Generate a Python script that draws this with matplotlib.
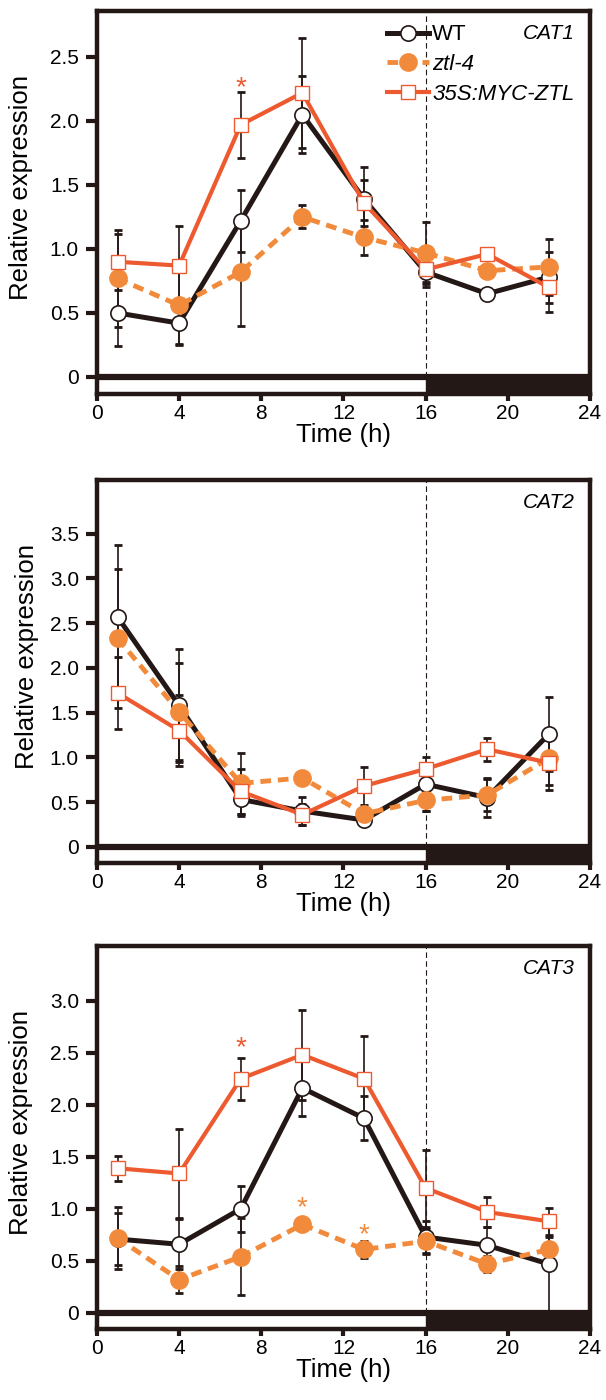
import numpy as np
import matplotlib
matplotlib.use("Agg")
import matplotlib.pyplot as plt
from matplotlib.patches import Rectangle

plt.rcParams['font.family'] = ['Liberation Sans', 'DejaVu Sans']

# sampling times (h)
hours = [1, 4, 7, 10, 13, 16, 19, 22]
genes = ["CAT1", "CAT2", "CAT3"]
labels = ["WT", "ztl-4", "35S:MYC-ZTL"]

# CAT1
cat1_wt = [0.50, 0.42, 1.22, 2.05, 1.39, 0.82, 0.65, 0.78]
cat1_wt_err = [0.26, 0.17, 0.24, 0.30, 0.25, 0.12, 0.02, 0.20]
cat1_ztl = [0.77, 0.56, 0.82, 1.25, 1.09, 0.97, 0.83, 0.86]
cat1_ztl_err = [0.38, 0.30, 0.42, 0.09, 0.14, 0.24, 0.03, 0.22]
cat1_ox = [0.90, 0.87, 1.97, 2.22, 1.36, 0.84, 0.96, 0.70]
cat1_ox_err = [0.22, 0.31, 0.26, 0.43, 0.18, 0.10, 0.03, 0.19]

# CAT2
cat2_wt = [2.57, 1.58, 0.53, 0.40, 0.30, 0.70, 0.55, 1.26]
cat2_wt_err = [0.80, 0.63, 0.18, 0.16, 0.05, 0.30, 0.22, 0.41]
cat2_ztl = [2.33, 1.51, 0.71, 0.77, 0.37, 0.52, 0.58, 0.99]
cat2_ztl_err = [0.78, 0.54, 0.34, 0.04, 0.05, 0.12, 0.18, 0.30]
cat2_ox = [1.72, 1.30, 0.62, 0.36, 0.68, 0.87, 1.09, 0.94]
cat2_ox_err = [0.40, 0.40, 0.25, 0.12, 0.21, 0.05, 0.13, 0.30]

# CAT3
cat3_wt = [0.71, 0.66, 1.00, 2.16, 1.87, 0.73, 0.65, 0.47]
cat3_wt_err = [0.25, 0.24, 0.22, 0.27, 0.21, 0.15, 0.18, 0.47]
cat3_ztl = [0.72, 0.32, 0.54, 0.85, 0.61, 0.69, 0.47, 0.61]
cat3_ztl_err = [0.30, 0.13, 0.37, 0.04, 0.08, 0.12, 0.08, 0.12]
cat3_ox = [1.39, 1.34, 2.25, 2.48, 2.25, 1.20, 0.97, 0.88]
cat3_ox_err = [0.12, 0.43, 0.20, 0.43, 0.41, 0.37, 0.14, 0.13]

# significance marks: (time, baseline y, series)
cat1_stars = [(7, 2.20, "ox")]
cat2_stars = []
cat3_stars = [(7, 2.48, "ox"), (10, 0.94, "ztl"), (13, 0.68, "ztl")]

ylims = [(-0.133, 2.86), (-0.18, 4.10), (-0.154, 3.525)]
yticks = [np.arange(0, 2.6, 0.5), np.arange(0, 3.6, 0.5), np.arange(0, 3.1, 0.5)]
xticks = [0, 4, 8, 12, 16, 20, 24]

BLACK = "#231815"
ORANGE = "#F28A3C"
RED = "#EE5A2F"

panels = [
    (cat1_wt, cat1_wt_err, cat1_ztl, cat1_ztl_err, cat1_ox, cat1_ox_err, cat1_stars),
    (cat2_wt, cat2_wt_err, cat2_ztl, cat2_ztl_err, cat2_ox, cat2_ox_err, cat2_stars),
    (cat3_wt, cat3_wt_err, cat3_ztl, cat3_ztl_err, cat3_ox, cat3_ox_err, cat3_stars),
]
axes_pos = [[0.160, 0.7186, 0.8135, 0.2736],
            [0.160, 0.3836, 0.8135, 0.2736],
            [0.160, 0.0507, 0.8135, 0.2736]]
ylabel_x = [-0.13, -0.118, -0.13]

fig = plt.figure(figsize=(6.06, 14.0), dpi=100)

for i, (wt, wte, ztl, ztle, ox, oxe, stars) in enumerate(panels):
    ax = fig.add_axes(axes_pos[i])
    ybot, ytop = ylims[i]

    # error bars (all black)
    for vals, errs in [(wt, wte), (ztl, ztle), (ox, oxe)]:
        ax.errorbar(hours, vals, yerr=errs, fmt='none', ecolor=BLACK,
                    elinewidth=1.2, capsize=3, capthick=2, zorder=2)

    ax.plot(hours, wt, '-', color=BLACK, lw=3.6, marker='o', ms=11,
            mfc='white', mec=BLACK, mew=1.2, label=labels[0], zorder=3)
    ax.plot(hours, ztl, '--', color=ORANGE, lw=3.5, dashes=(2.2, 1.4),
            marker='o', ms=13.5, mfc=ORANGE, mec=ORANGE, mew=0,
            label=labels[1], zorder=4)
    ax.plot(hours, ox, '-', color=RED, lw=3.0, marker='s', ms=10,
            mfc='white', mec=RED, mew=1.0, label=labels[2], zorder=5)

    for t, y, s in stars:
        ax.text(t, y, '*', color=RED if s == "ox" else ORANGE, fontsize=20,
                ha='center', va='baseline', zorder=6)

    # light / dark bar and dusk line
    ax.axhline(0, color=BLACK, lw=4.5, zorder=6)
    ax.add_patch(Rectangle((16, ybot), 8, -ybot, color=BLACK, zorder=6))
    ax.vlines(16, 0, ytop, colors=BLACK, lw=0.8, linestyles=(0, (5, 3)), zorder=1)

    ax.set_xlim(0, 24)
    ax.set_ylim(ybot, ytop)
    ax.set_xticks(xticks)
    ax.set_yticks(yticks[i])
    ax.set_yticklabels(["0"] + ["%.1f" % v for v in yticks[i][1:]])
    for sp in ax.spines.values():
        sp.set_linewidth(3.2)
        sp.set_color(BLACK)
    ax.tick_params(axis='x', length=5, width=3, pad=2, labelsize=15, color=BLACK)
    ax.tick_params(axis='y', length=8, width=3, pad=5, labelsize=15, color=BLACK)

    ax.set_xlabel("Time (h)", fontsize=18.5, labelpad=0)
    ax.set_ylabel("Relative expression", fontsize=18.5)
    ax.yaxis.set_label_coords(ylabel_x[i], 0.54)

    ax.text(0.97, 0.94, genes[i], transform=ax.transAxes, fontsize=15,
            style='italic', ha='right', va='center')

    if i == 0:
        leg = ax.legend(loc='upper left', bbox_to_anchor=(0.588, 0.965),
                        frameon=False, fontsize=16, handlelength=1.9,
                        handletextpad=0.15, labelspacing=0.4, borderpad=0,
                        borderaxespad=0)
        leg.get_texts()[1].set_style('italic')
        leg.get_texts()[2].set_style('italic')

fig.savefig("out.png", dpi=100)
